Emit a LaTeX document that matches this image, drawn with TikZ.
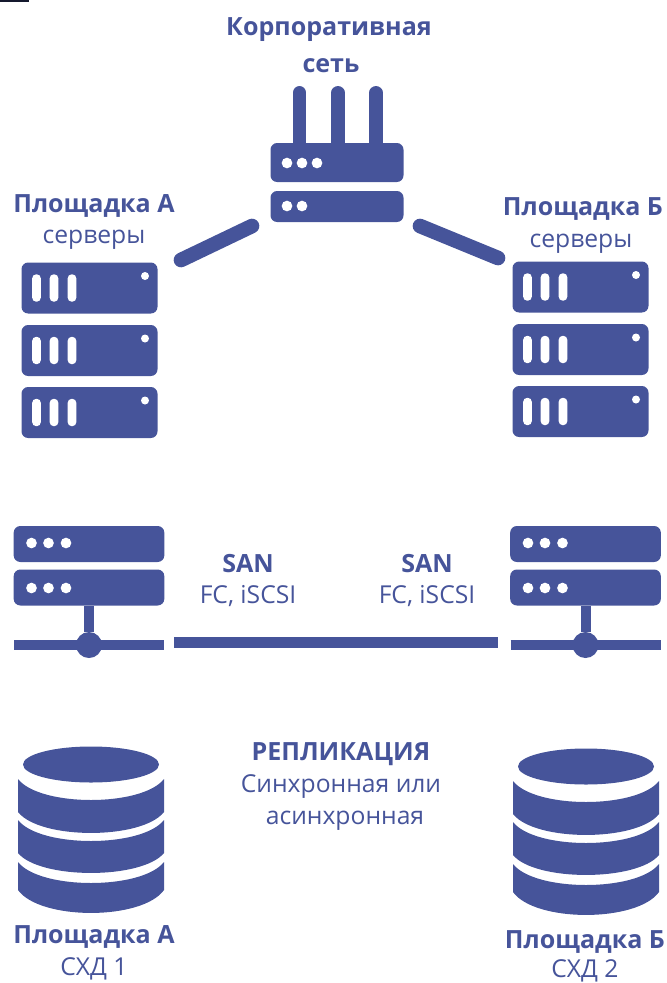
\documentclass[tikz,border=0pt]{standalone}
\usepackage{fontspec}
\setmainfont{Open Sans}
\usetikzlibrary{shapes, arrows}
\definecolor{netblue}{HTML}{46549A}

\begin{document}
\begin{tikzpicture}[
x=0.75pt, y=-0.75pt,
block/.style={rectangle, rounded corners=5pt, inner sep=0pt, fill=netblue},
server/.style={block, minimum width=102pt, minimum height=38.25pt},
switch/.style={block, minimum width=113pt, minimum height=27pt},
router-a/.style={block, minimum width=99.75pt, minimum height=29.25pt},
router-b/.style={block, minimum width=99.75pt, minimum height=23.25pt},
led/.style={circle, inner sep=0pt, minimum size=8pt, fill=white},
lamp/.style={circle, inner sep=0pt, minimum size=6pt, fill=white},
slot/.style={rectangle, rounded corners=3pt, inner sep=0pt, minimum width=6.5pt, minimum height=20.5pt, fill=white},
hub/.style={circle, inner sep=0pt, minimum size=19.5pt, fill=netblue},
head/.style={text=netblue, anchor=base, font=\fontsize{18.8}{22}\selectfont\bfseries, inner sep=0pt},
note/.style={text=netblue, anchor=base, font=\fontsize{18.5}{22}\selectfont, inner sep=0pt},
line/.style={draw=netblue, line width=8.25pt},
uplink/.style={draw=netblue, line width=11pt, line cap=round},
wire/.style={draw=netblue, line width=7.5pt}
]
\useasboundingbox (0,0) rectangle (667,983);
\fill [black!70!netblue] (0,0) rectangle (29,2);

% router
\foreach \x in {299.5,338,376} {
  \draw [netblue, line width=10pt, line cap=round] (\x,92.7) -- (\x,150);
}
\node [router-a] (router-top) at (337,162.5) {};
\node [router-b] (router-bottom) at (337,206.5) {};
\foreach \x in {287,302,317} {\node [led] at (\x,163) {};}
\foreach \x in {287,302} {\node [led] at (\x,206) {};}

% servers
\foreach \name/\x/\dy in {a/89.5/0, b/580.5/-1} {
  \foreach \n/\y in {1/288, 2/350.5, 3/412.5} {
    \node [server] (server-\name\n) at (\x,\y+\dy) {};
    \node [lamp] at (\x+55.5,\y+\dy-12) {};
    \foreach \s in {-53,-35.5,-17.5} {
      \node [slot] at (\x+\s,\y+\dy) {};
    }
  }
}

% switches
\foreach \name/\x in {a/89, b/585.5} {
  \node [switch] (switch-\name1) at (\x,544) {};
  \node [switch] (switch-\name2) at (\x,587.5) {};
  \node [hub] (hub-\name) at (\x,645) {};
  \foreach \s in {-57.5,-40.5,-23} {
    \node [led] at (\x+\s,543) {};
    \node [led] at (\x+\s,588) {};
  }
  \coordinate (bar-\name-l) at (\x-75,645);
  \coordinate (bar-\name-r) at (\x+75,645);
  \path [wire] (switch-\name2) -- (hub-\name);
  \path [wire] (bar-\name-l) -- (bar-\name-r);
}

% storage
\foreach \name/\x/\dy in {a/0/0, b/495/2} {
  \begin{scope}[shift={(\x,\dy)}]
    \fill [netblue] (91,764.5) ellipse (51pt and 13.5pt);
    \foreach \y/\h/\d in {779/33/21, 820/33/20, 862/28/23} {
      \fill [netblue] (18,\y) .. controls (40,\y+28) and (142,\y+28) .. (164,\y)
        -- (164,\y+\h) .. controls (142,\y+\h+\d*1.33) and (40,\y+\h+\d*1.33) .. (18,\y+\h) -- cycle;
    }
  \end{scope}
}

% links
\coordinate (link-a1) at (181,260);
\coordinate (link-a2) at (252,226);
\coordinate (link-b1) at (420,226);
\coordinate (link-b2) at (498,258);
\coordinate (san-l) at (174,642.5);
\coordinate (san-r) at (498,642.5);
\path [uplink] (link-a1) -- (link-a2);
\path [uplink] (link-b1) -- (link-b2);
\path [line] (san-l) -- (san-r);

% labels
\node [head] (corp) at (329,35) {Корпоративная};
\node [head] (corp-net) at (331,72) {сеть};
\node [head] (site-a) at (94,212) {Площадка А};
\node [note] (site-a-srv) at (94,243) {серверы};
\node [head] (site-b) at (583,215) {Площадка Б};
\node [note] (site-b-srv) at (581,247) {серверы};
\node [head] (san-a) at (248,572) {SAN};
\node [note] (san-a-fc) at (248,603) {FC, iSCSI};
\node [head] (san-b) at (427,572) {SAN};
\node [note] (san-b-fc) at (427,603) {FC, iSCSI};
\node [head] (repl) at (341,760) {РЕПЛИКАЦИЯ};
\node [note] (repl-a) at (341,792) {Синхронная или};
\node [note] (repl-b) at (345,824) {асинхронная};
\node [head] (site-a2) at (94,943) {Площадка А};
\node [note] (site-a-st) at (94,975) {СХД 1};
\node [head] (site-b2) at (585,948) {Площадка Б};
\node [note] (site-b-st) at (585,977) {СХД 2};
\end{tikzpicture}
\end{document}
